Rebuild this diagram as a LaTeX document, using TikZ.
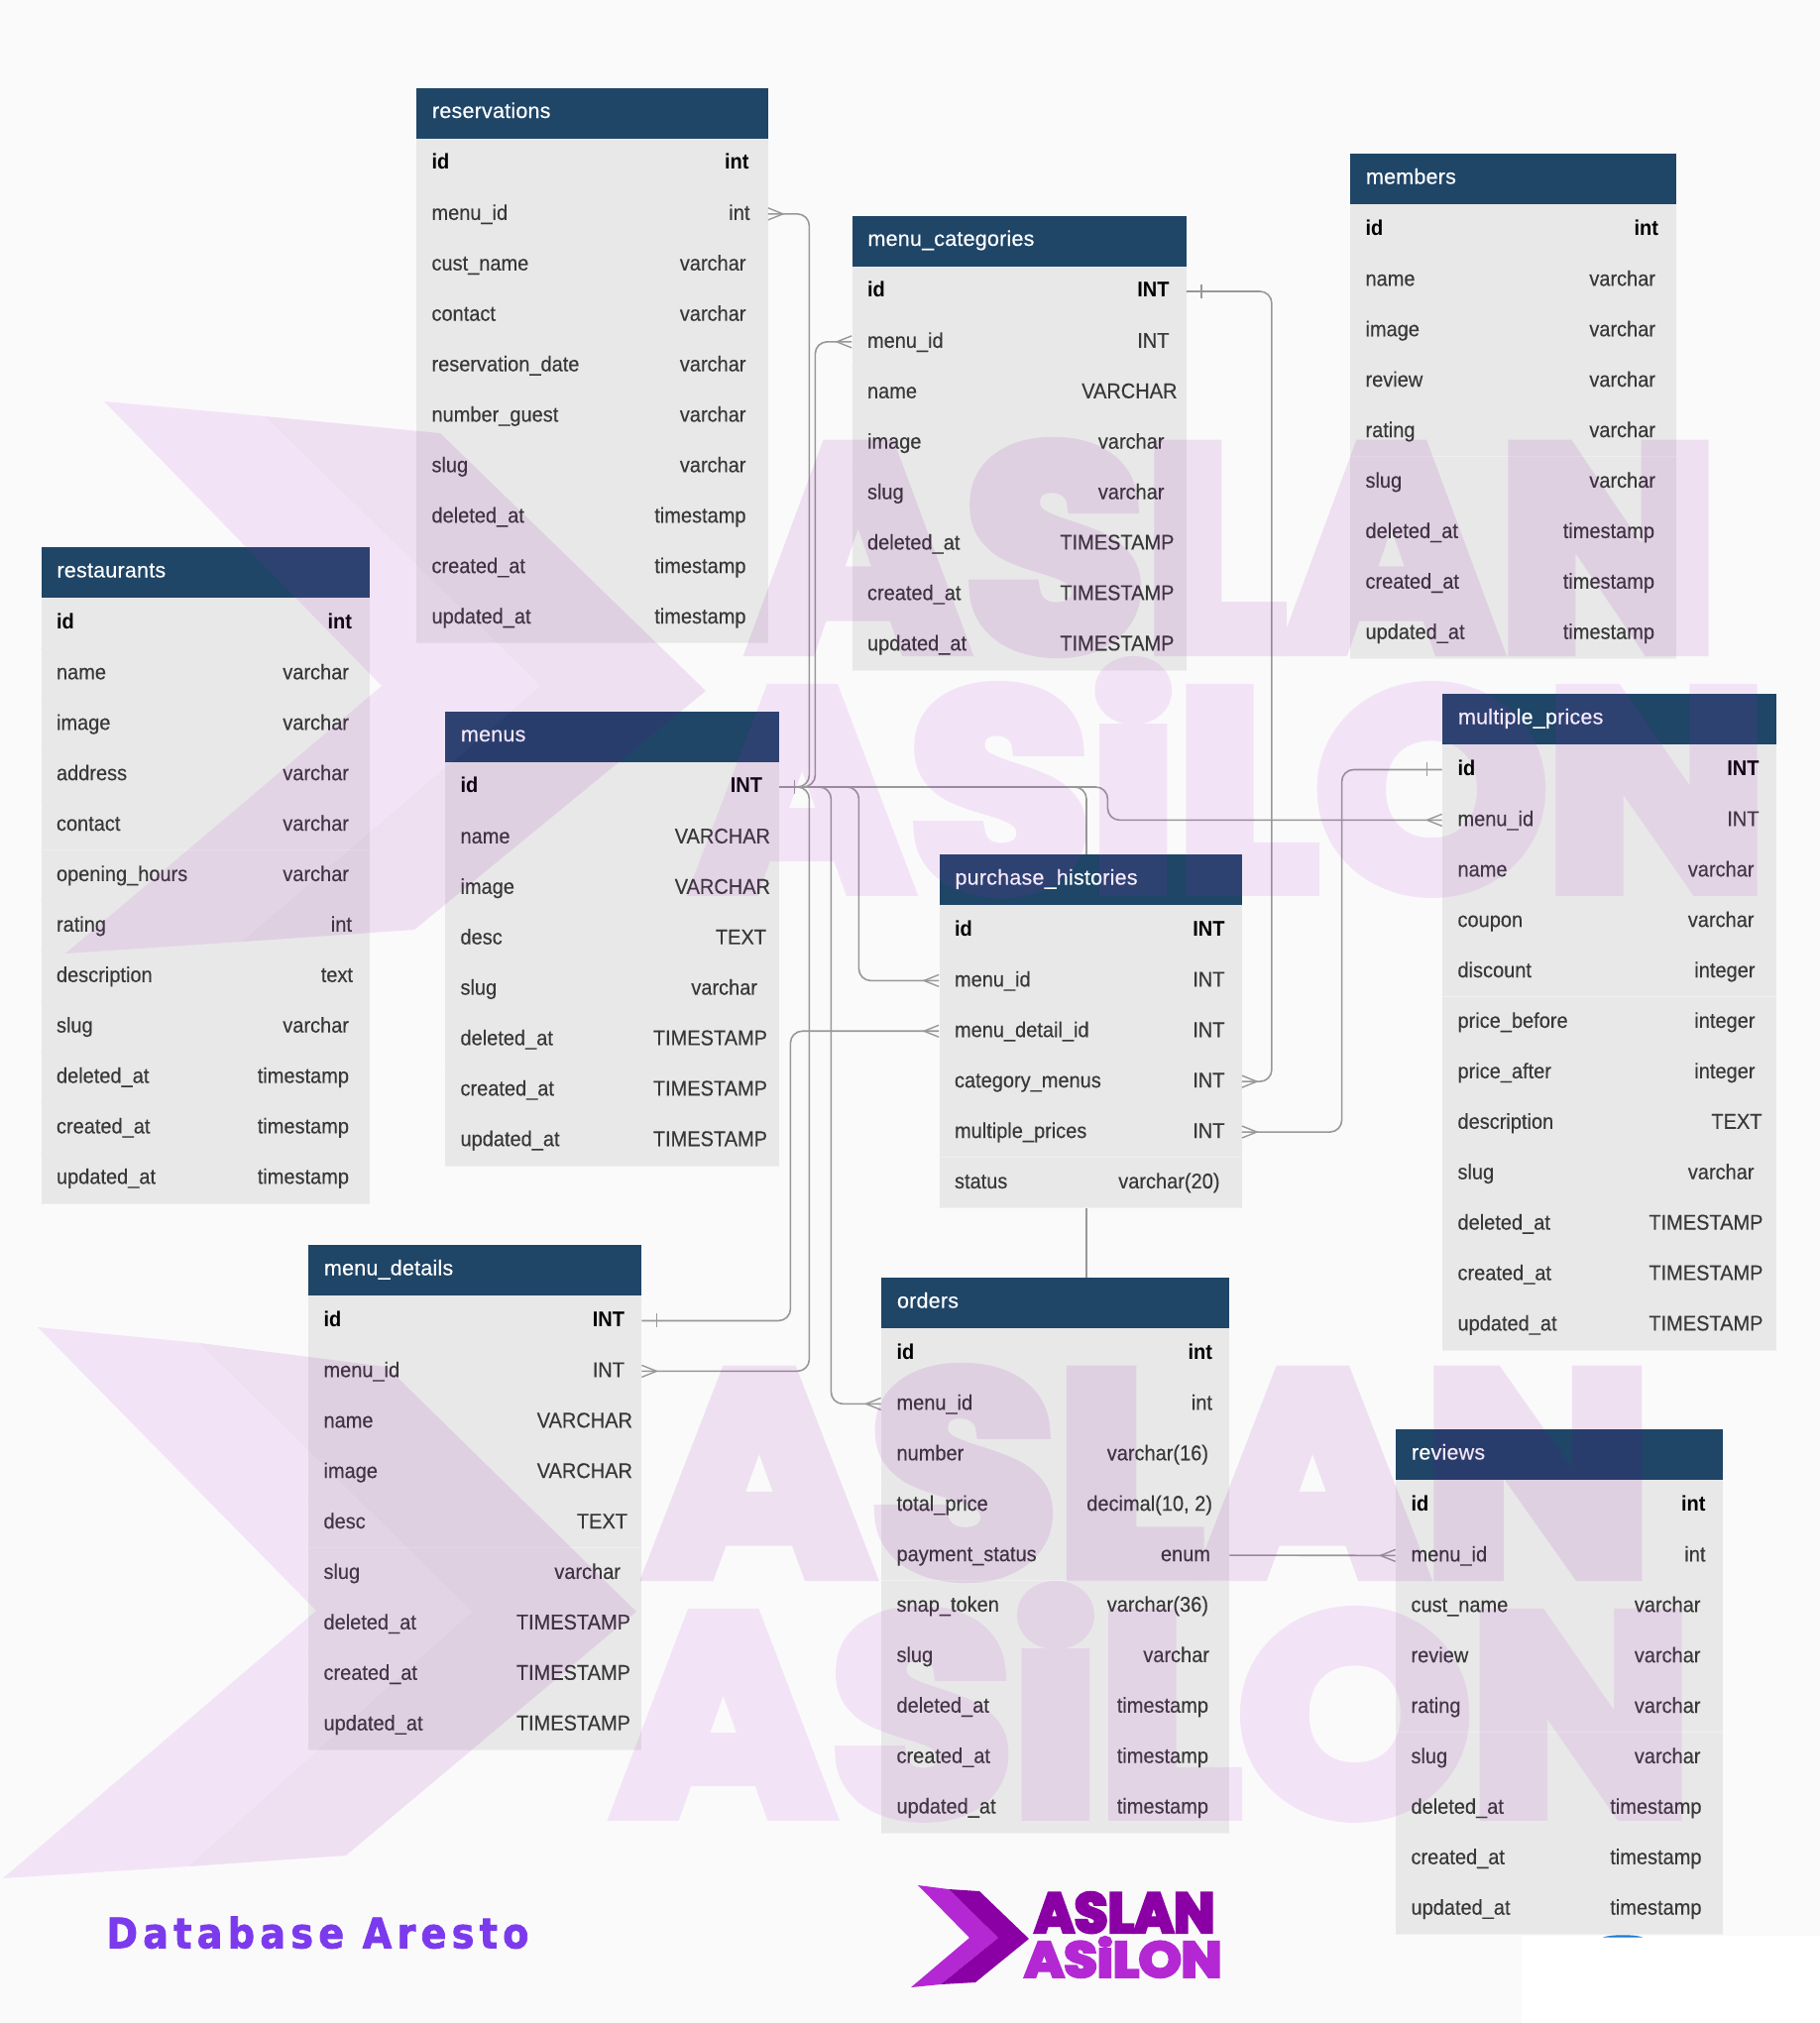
\documentclass[tikz,border=0pt]{standalone}
\usepackage{fontspec}
\usepackage{graphicx}
\usepackage{xcolor}
\usepackage{tikz}
\usetikzlibrary{calc,backgrounds}
\catcode`\_=12

\newfontfamily\colfamily{Liberation Sans}[FakeStretch=0.93,FakeBold=0.2]
\newfontfamily\idfamily{Liberation Sans Bold}[FakeStretch=0.93]
\newfontfamily\headfamily{Liberation Sans}[FakeBold=0.3,LetterSpace=1]
\newfontfamily\markfamily{Poppins Bold}[FakeBold=6]
\newfontfamily\captionfamily{DejaVu Sans Bold}[LetterSpace=14,FakeBold=2]

\definecolor{pagebg}{HTML}{FAFAFA}
\definecolor{headbg}{HTML}{1F4567}
\definecolor{rowbg}{HTML}{E8E8E8}
\definecolor{rowline}{HTML}{EFEFEF}
\definecolor{relcolor}{HTML}{989898}
\definecolor{marklight}{HTML}{B428D4}
\definecolor{markdark}{HTML}{8A00A5}
\definecolor{captioncolor}{HTML}{7C3AED}
\definecolor{sliver}{HTML}{1A78D2}

\tikzset{
    dbhead/.style={rectangle,fill=headbg,inner sep=0,minimum height=25.5pt},
    dbrow/.style={rectangle,fill=rowbg,inner sep=0,minimum height=25.45pt},
    headtext/.style={anchor=base west,inner sep=0,text=white,font=\headfamily\fontsize{10.75}{12}\selectfont},
    coltext/.style={inner sep=0,text=black!78,font=\colfamily\fontsize{10.75}{12}\selectfont},
    idtext/.style={inner sep=0,text=black,font=\idfamily\fontsize{10.75}{12}\selectfont},
    relline/.style={draw=relcolor,line width=0.8pt,rounded corners=6pt},
    endmark/.style={draw=relcolor,line width=0.7pt},
    wmtext/.style={anchor=north west,inner sep=0}
}

% name, left, top, width, rows as column/type/gap at the right
\newcommand{\dbtable}[5]{
    \node[dbhead,minimum width=#4*0.5pt] (#1) at (#2+#4/2,#3+25.5) {};
    \node[headtext] (#1-title) at ($(#1.west)+(16,5)$) {#1};
    \foreach \col/\typ/\gap [count=\n] in {#5} {
        \ifnum\n=1 \def\rowstyle{idtext}\else\def\rowstyle{coltext}\fi
        \node[dbrow,minimum width=#4*0.5pt] (#1-\col) at (#2+#4/2,#3+51+\n*50.9-25.45) {};
        \draw[rowline,line width=0.5pt] (#1-\col.south west) -- (#1-\col.south east);
        \node[\rowstyle,anchor=base west] (#1-\col-name) at ($(#1-\col.west)+(15.5,6)$) {\col};
        \node[\rowstyle,anchor=base east] (#1-\col-type) at ($(#1-\col.east)+(-\gap,6)$) {\typ};
    }
}
% node anchor, direction away from the table
\newcommand{\crowfoot}[2]{\draw[endmark] (#1) ++(0,-6) -- ++(#2*15,6) -- ++(-#2*15,6);}
\newcommand{\onemark}[2]{\draw[endmark] (#1) ++(#2*15,-7) -- ++(0,14);}

\begin{document}
\begin{tikzpicture}[x=0.5pt,y=-0.5pt]
    \useasboundingbox (0,0) rectangle (1836,2041);
    \dbtable{reservations}{420}{88.5}{354.5}{id/int/19,menu_id/int/18,cust_name/varchar/22,contact/varchar/22,reservation_date/varchar/22,number_guest/varchar/22,slug/varchar/22,deleted_at/timestamp/22,created_at/timestamp/22,updated_at/timestamp/22}
    \dbtable{menu_categories}{859.5}{217.5}{337}{id/INT/17,menu_id/INT/17,name/VARCHAR/9,image/varchar/22,slug/varchar/22,deleted_at/TIMESTAMP/12,created_at/TIMESTAMP/12,updated_at/TIMESTAMP/12}
    \dbtable{members}{1362}{155}{329}{id/int/18,name/varchar/21,image/varchar/21,review/varchar/21,rating/varchar/21,slug/varchar/21,deleted_at/timestamp/22,created_at/timestamp/22,updated_at/timestamp/22}
    \dbtable{restaurants}{41.5}{552}{331.5}{id/int/18,name/varchar/21,image/varchar/21,address/varchar/21,contact/varchar/21,opening_hours/varchar/21,rating/int/18,description/text/17,slug/varchar/21,deleted_at/timestamp/21,created_at/timestamp/21,updated_at/timestamp/21}
    \dbtable{menus}{449}{717.5}{337}{id/INT/17,name/VARCHAR/9,image/VARCHAR/9,desc/TEXT/13,slug/varchar/22,deleted_at/TIMESTAMP/12,created_at/TIMESTAMP/12,updated_at/TIMESTAMP/12}
    \dbtable{multiple_prices}{1455}{700}{336.5}{id/INT/17,menu_id/INT/17,name/varchar/22,coupon/varchar/22,discount/integer/21,price_before/integer/21,price_after/integer/21,description/TEXT/14,slug/varchar/22,deleted_at/TIMESTAMP/13,created_at/TIMESTAMP/13,updated_at/TIMESTAMP/13}
    \dbtable{purchase_histories}{947.5}{862}{305}{id/INT/17,menu_id/INT/17,menu_detail_id/INT/17,category_menus/INT/17,multiple_prices/INT/17,status/varchar(20)/22}
    \dbtable{menu_details}{311}{1256}{336}{id/INT/17,menu_id/INT/17,name/VARCHAR/9,image/VARCHAR/9,desc/TEXT/14,slug/varchar/21,deleted_at/TIMESTAMP/11,created_at/TIMESTAMP/11,updated_at/TIMESTAMP/11}
    \dbtable{orders}{889}{1289}{351}{id/int/17,menu_id/int/17,number/varchar(16)/21,total_price/{decimal(10, 2)}/17,payment_status/enum/19,snap_token/varchar(36)/21,slug/varchar/20,deleted_at/timestamp/21,created_at/timestamp/21,updated_at/timestamp/21}
    \dbtable{reviews}{1408}{1442}{329.5}{id/int/17,menu_id/int/17,cust_name/varchar/22,review/varchar/22,rating/varchar/22,slug/varchar/22,deleted_at/timestamp/21,created_at/timestamp/21,updated_at/timestamp/21}

    \coordinate (ordersTop) at (1096,1289.5);
    \begin{scope}[on background layer]
        \fill[pagebg] (0,0) rectangle (1836,2041);
        \draw[relline] (menus-id.east) -| (ordersTop);
    \end{scope}

    \begin{scope}[every path/.style={relline}]
        \draw (menus-id.east) -- ++(30,0) |- (reservations-menu_id.east);
        \draw (menus-id.east) -- ++(36,0) |- (menu_categories-menu_id.west);
        \draw (menus-id.east) -- ++(30,0) |- (menu_details-menu_id.east);
        \draw (menus-id.east) -- ++(52,0) |- (orders-menu_id.west);
        \draw (menus-id.east) -- ++(80,0) |- (purchase_histories-menu_id.west);
        \draw (menus-id.east) -- ++(331,0) |- (multiple_prices-menu_id.west);
        \draw (menu_categories-id.east) -- ++(86,0) |- (purchase_histories-category_menus.east);
        \draw (multiple_prices-id.west) -- ++(-101,0) |- (purchase_histories-multiple_prices.east);
        \draw (menu_details-id.east) -- ++(150,0) |- (purchase_histories-menu_detail_id.west);
        \draw (orders-payment_status.east) -- (reviews-menu_id.west);
    \end{scope}

    \onemark{menus-id.east}{1}
    \onemark{menu_categories-id.east}{1}
    \onemark{multiple_prices-id.west}{-1}
    \onemark{menu_details-id.east}{1}
    \crowfoot{reservations-menu_id.east}{1}
    \crowfoot{menu_categories-menu_id.west}{-1}
    \crowfoot{menu_details-menu_id.east}{1}
    \crowfoot{orders-menu_id.west}{-1}
    \crowfoot{purchase_histories-menu_id.west}{-1}
    \crowfoot{purchase_histories-menu_detail_id.west}{-1}
    \crowfoot{purchase_histories-category_menus.east}{1}
    \crowfoot{purchase_histories-multiple_prices.east}{1}
    \crowfoot{multiple_prices-menu_id.west}{-1}
    \crowfoot{reviews-menu_id.west}{-1}

    % corner patch
    \fill[white] (1535,1953) rectangle (1836,2041);
    \fill[sliver] (1617,1954.5) .. controls (1625,1951.5) and (1650,1951.5) .. (1657,1954.5) -- cycle;

    % watermark on top of everything
    \begin{scope}[opacity=0.1]
        \fill[marklight] (105,405) -- (268,420) -- (546,692) -- (245,950) -- (66,962) -- (385,692) -- cycle;
        \fill[markdark] (268,420) -- (444,437) -- (712,697) -- (418,938) -- (245,950) -- (546,692) -- cycle;
        \fill[marklight] (38,1339) -- (202,1355) -- (477,1626) -- (191,1883) -- (3,1895) -- (319,1625) -- cycle;
        \fill[markdark] (202,1355) -- (390,1379) -- (642,1626) -- (349,1872) -- (191,1883) -- (477,1626) -- cycle;
    \end{scope}
    \begin{scope}[transparency group,opacity=0.1]
        \node[wmtext,text=markdark] (wmTopA) at (757,449) {\resizebox{487.5pt}{102pt}{\markfamily ASLAN}};
        \node[wmtext,text=marklight] (wmTopB) at (700,670) {\resizebox{540pt}{112.5pt}{\markfamily ASiLON}};
        \node[wmtext,text=markdark] (wmLowA) at (653,1383) {\resizebox{506pt}{101.5pt}{\markfamily ASLAN}};
        \node[wmtext,text=marklight] (wmLowB) at (620,1603) {\resizebox{542pt}{112.5pt}{\markfamily ASiLON}};
    \end{scope}

    % logo and caption
    \fill[marklight] (926,1902) -- (957,1906) -- (1007,1955) -- (949,2002) -- (919,2005) -- (978,1955) -- cycle;
    \fill[markdark] (957,1906) -- (988,1908) -- (1038,1956) -- (984,2000) -- (949,2002) -- (1007,1955) -- cycle;
    \node[anchor=north west,inner sep=0,text=markdark] (logoTop) at (1043,1909) {\resizebox{91pt}{20pt}{\markfamily ASLAN}};
    \node[anchor=north west,inner sep=0,text=marklight] (logoLow) at (1033,1954) {\resizebox{99.5pt}{20pt}{\markfamily ASiLON}};
    \node[anchor=north west,inner sep=0,text=captioncolor] (caption) at (107,1933) {\resizebox{213pt}{16pt}{\captionfamily Database Aresto}};
\end{tikzpicture}
\end{document}
